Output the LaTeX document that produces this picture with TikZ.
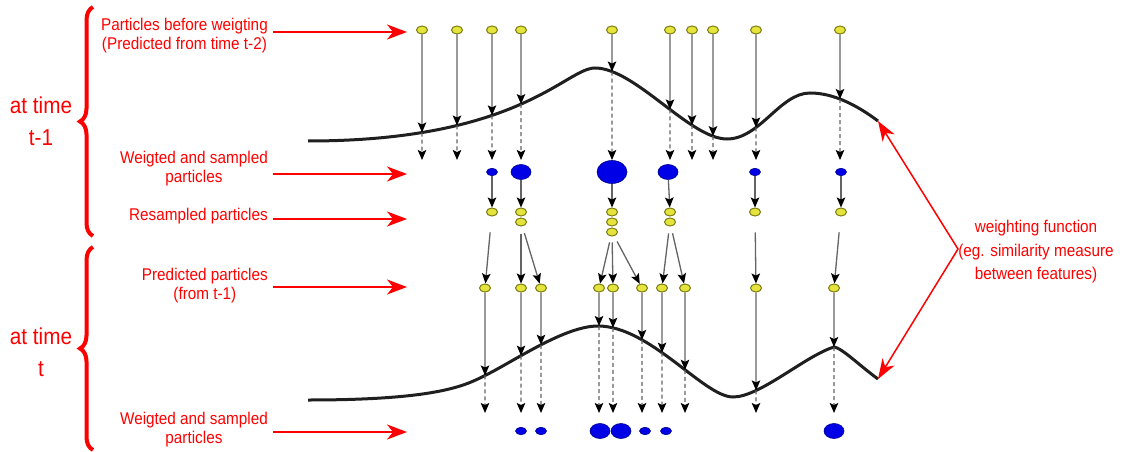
\documentclass[tikz,border=0pt]{standalone}
\usepackage{fontspec}
\usetikzlibrary{arrows.meta,shapes.geometric,decorations.pathreplacing,intersections}
\newfontfamily\lblfont{Liberation Sans}[FakeStretch=0.9]
\definecolor{partfill}{RGB}{228,228,60}
\definecolor{partline}{RGB}{125,125,20}
\definecolor{wfill}{RGB}{0,0,230}
\definecolor{wline}{RGB}{0,0,140}
\definecolor{linkgray}{RGB}{100,100,100}
\definecolor{lblred}{RGB}{255,0,0}
\tikzset{
  part/.style={ellipse,draw=partline,fill=partfill,line width=1pt,
    minimum width=11pt,minimum height=8pt,inner sep=0pt},
  wpart/.style={ellipse,draw=wline,fill=wfill,line width=0.6pt,inner sep=0pt},
  wsmall/.style={wpart,minimum width=11pt,minimum height=7.5pt},
  wmid/.style={wpart,minimum width=20pt,minimum height=15pt},
  wbig/.style={wpart,minimum width=30pt,minimum height=23pt},
  link/.style={draw=linkgray,line width=1.3pt,
    -{Stealth[length=10pt,width=8.5pt,inset=2pt,color=black]}},
  dlink/.style={link,dash pattern=on 4pt off 3pt},
  curve/.style={draw=black!88,line width=3pt},
  lbl/.style={text=lblred,font=\lblfont\fontsize{17}{19}\selectfont,
    align=center,anchor=east,inner sep=0pt},
  timelbl/.style={text=lblred,font=\lblfont\fontsize{23}{32}\selectfont,
    align=center,inner sep=0pt},
  pointer/.style={draw=lblred,line width=2pt,shorten <=5pt,
    -{Stealth[length=20pt,width=15pt,inset=6pt]}},
  wpointer/.style={draw=lblred,line width=1.5pt,
    {Stealth[length=20pt,width=14pt,inset=6pt]}-{Stealth[length=20pt,width=14pt,inset=6pt]}},
  timebrace/.style={draw=lblred,line width=4pt,decorate,
    decoration={brace,amplitude=13pt}}
}

\begin{document}
\begin{tikzpicture}[x=1pt,y=-1pt]
\useasboundingbox (0,0) rectangle (1125,452);

% time t-1
\coordinate (ta) at (878,121);
\draw[curve,name path=wfa] (308,141) .. controls (520,141) and (566,68) .. (595,68)
  .. controls (635,68) and (690,139) .. (727,139)
  .. controls (760,139) and (780,93) .. (810,93)
  .. controls (828,93) and (850,100) .. (ta);
\foreach \x [count=\i] in {422,457,492,521,612,670,692,713,756,840}
{
  \node[part] (a\i) at (\x,30) {};
  \path[name path=vl] (\x,20) -- (\x,200);
  \path[name intersections={of=wfa and vl,by={ca\i}}];
  \coordinate (da\i) at (\x,160);
  \draw[link] (a\i) -- (ca\i);
  \draw[dlink] (ca\i) -- (da\i);
}

\node[wsmall] (w1) at (492,172) {};
\node[wmid] (w2) at (521,172) {};
\node[wbig] (w3) at (612,172) {};
\node[wmid] (w4) at (668,172) {};
\node[wsmall] (w5) at (755,172) {};
\node[wsmall] (w6) at (841,172) {};

\node[part] (r1) at (492,212) {};
\node[part] (r2) at (521,212) {};
\node[part] (r2b) at (521,222) {};
\node[part] (r3) at (612,212) {};
\node[part] (r3b) at (612,222) {};
\node[part] (r3c) at (612,232) {};
\node[part] (r4) at (670,212) {};
\node[part] (r4b) at (670,222) {};
\node[part] (r5) at (755,212) {};
\node[part] (r6) at (841,212) {};
\foreach \i in {1,...,6}
  \draw[link] (w\i) -- (r\i);

% time t
\coordinate (tb) at (878,379);
\draw[curve,name path=wfb] (308,400) .. controls (440,400) and (466,385) .. (486,375)
  .. controls (516,360) and (565,326) .. (598,326)
  .. controls (650,326) and (704,397) .. (733,397)
  .. controls (760,397) and (805,356) .. (834,347)
  .. controls (842,348) and (860,366) .. (tb);
\foreach \x [count=\i] in {485,521,541,599,613,642,662,685,756,834}
{
  \node[part] (p\i) at (\x,288) {};
  \path[name path=vl] (\x,280) -- (\x,420);
  \path[name intersections={of=wfb and vl,by={cb\i}}];
  \coordinate (db\i) at (\x,413);
  \draw[link] (p\i) -- (cb\i);
  \draw[dlink] (cb\i) -- (db\i);
}

\draw[link,shorten <=16pt] (r1) -- (p1);
\draw[link,shorten <=7pt] (r2b) -- (p2);
\draw[link,shorten <=7pt] (r2b) -- (p3);
\draw[link,shorten <=6pt] (r3c) -- (p4);
\draw[link,shorten <=6pt] (r3c) -- (p5);
\draw[link,shorten <=6pt] (r3c) -- (p6);
\draw[link,shorten <=7pt] (r4b) -- (p7);
\draw[link,shorten <=7pt] (r4b) -- (p8);
\draw[link,shorten <=16pt] (r5) -- (p9);
\draw[link,shorten <=16pt] (r6) -- (p10);

\node[wsmall] (v1) at (521,431) {};
\node[wsmall] (v2) at (541,431) {};
\node[wmid] (v3) at (600,431) {};
\node[wmid] (v4) at (621,431) {};
\node[wsmall] (v5) at (645,431) {};
\node[wsmall] (v6) at (666,431) {};
\node[wmid] (v7) at (834,431) {};

% labels
\node[lbl] (lab1) at (268,36) {Particles before weigting\\(Predicted from time t-2)};
\node[lbl] (lab2) at (268,169) {Weigted and sampled\\particles};
\node[lbl] (lab3) at (268,216) {Resampled particles};
\node[lbl] (lab4) at (268,286) {Predicted particles\\(from t-1)};
\node[lbl] (lab5) at (268,430) {Weigted and sampled\\particles};
\coordinate (tip1) at (407,32);
\coordinate (tip2) at (407,174);
\coordinate (tip3) at (407,219);
\coordinate (tip4) at (407,287);
\coordinate (tip5) at (407,432);
\foreach \i in {1,...,5}
  \draw[pointer] (tip\i -| lab\i.east) -- (tip\i);

\node[timelbl] (t1) at (41,121) {at time\\t-1};
\node[timelbl] (t2) at (41,352) {at time\\t};
\coordinate (b1s) at (93,236);
\coordinate (b1e) at (93,7);
\coordinate (b2s) at (93,450);
\coordinate (b2e) at (93,247);
\draw[timebrace] (b1s) -- (b1e);
\draw[timebrace] (b2s) -- (b2e);

\node[lbl,anchor=center,font=\lblfont\fontsize{17}{23.5}\selectfont] (wf) at (1036,252)
  {weighting function\\(eg. similarity measure\\between features)};
\coordinate (wfv) at (958,249);
\draw[wpointer] (ta) -- (wfv) -- (tb);
\end{tikzpicture}
\end{document}
